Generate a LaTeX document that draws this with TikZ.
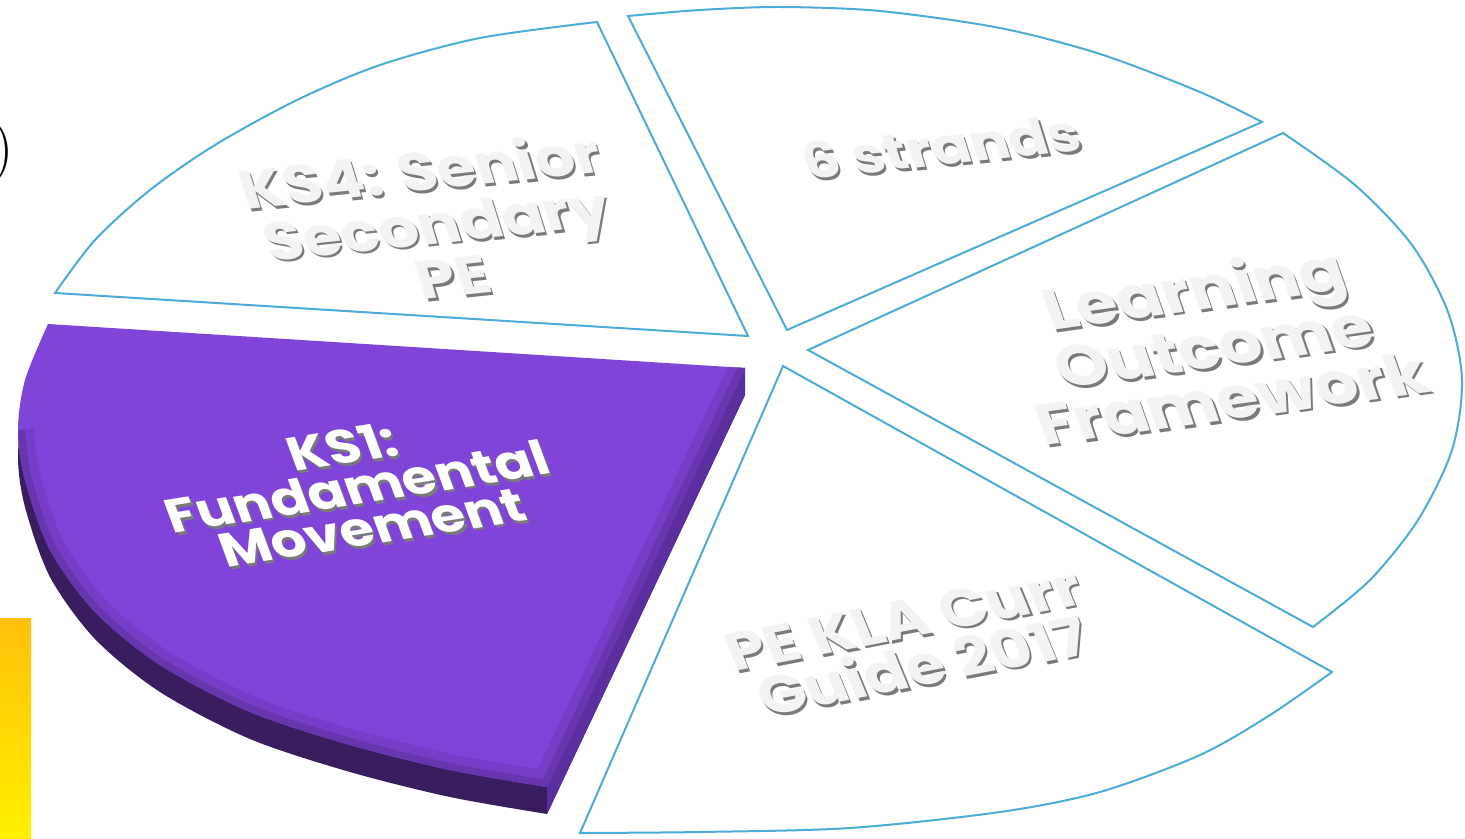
\documentclass[tikz,border=0pt]{standalone}
\usepackage{fontspec}
\usepackage{xcolor}
\usepackage{tikz}

\newfontfamily\piefont{Poppins}
\definecolor{rimblue}{RGB}{75,172,216}
\definecolor{pieviolet}{RGB}{128,68,217}
\definecolor{violetside}{RGB}{92,45,158}
\definecolor{violetdark}{RGB}{58,29,94}
\definecolor{embossgray}{RGB}{122,122,122}
\definecolor{letterwhite}{RGB}{243,243,243}

% embossed label: shadow copy first, then the face
\newcommand{\embossed}[4][]{%
  \node[xshift=1.1pt,yshift=-1.4pt,#1,lbl,text=embossgray] at (#3) {#4};
  \node[#1,lbl] (#2) at (#3) {#4};
}

\begin{document}
\begin{tikzpicture}[x=0.5pt,y=-0.5pt,
  slice/.style={fill=white,draw=rimblue,line width=1pt},
  lbl/.style={align=center,inner sep=0pt,xslant=-0.2,xscale=1.15}]
\useasboundingbox (0,0) rectangle (1465,839);

% white slices
\draw[slice] (748,336) -- (55,293) -- plot[smooth] coordinates {(55,293) (95,240) (150,190) (215,145) (297,100) (380,65) (480,38) (597,22)} -- cycle;
\draw[slice] (787,330) -- (628,16) -- plot[smooth] coordinates {(628,16) (700,10) (780,7) (880,11) (1000,28) (1100,54) (1200,92) (1262,122)} -- cycle;
\draw[slice] (808,350) -- (1283,133) -- plot[smooth] coordinates {(1283,133) (1355,185) (1412,245) (1448,312) (1462,380) (1452,450) (1418,520) (1370,580) (1313,627)} -- cycle;
\draw[slice] (783,366) -- (1332,672) -- plot[smooth] coordinates {(1332,672) (1270,715) (1200,755) (1100,792) (1000,812) (850,828) (700,832) (580,833)} -- cycle;

% pulled-out slice: side, then top face
\begin{scope}[yshift=-13.5pt]
\fill[violetdark] (48,324) -- (745,368) -- (547,787) -- plot[smooth] coordinates {(547,787) (450,770) (350,745) (250,712) (160,665) (95,612) (50,550) (25,480) (18,430) (25,380) (48,324)} -- cycle;
\end{scope}
\fill[violetside] (745,368) -- (547,787) -- (547,814) -- (745,395) -- cycle;
\fill[pieviolet] (48,324) -- (745,368) -- (547,787) -- plot[smooth] coordinates {(547,787) (450,770) (350,745) (250,712) (160,665) (95,612) (50,550) (25,480) (18,430) (25,380) (48,324)} -- cycle;
\begin{scope}
\clip (48,324) -- (745,368) -- (547,787) -- plot[smooth] coordinates {(547,787) (450,770) (350,745) (250,712) (160,665) (95,612) (50,550) (25,480) (18,430) (25,380) (48,324)} -- cycle;
\draw[pieviolet!92!black,line width=16pt] (745,368) -- (547,787) -- plot[smooth] coordinates {(547,787) (450,770) (350,745) (250,712) (160,665) (95,612) (50,550) (25,480) (18,430)};
\draw[pieviolet!80!black,line width=7pt] (745,368) -- (547,787) -- plot[smooth] coordinates {(547,787) (450,770) (350,745) (250,712) (160,665) (95,612) (50,550) (25,480) (18,430)};
\end{scope}

% labels
\embossed[rotate=6,font=\piefont\bfseries\fontsize{27}{27}\selectfont,text=letterwhite]{senior}{436,222}{KS4: Senior\\Secondary\\PE}
\embossed[rotate=6,font=\piefont\bfseries\fontsize{25}{26}\selectfont,text=letterwhite]{strands}{941,147}{6 strands}
\embossed[rotate=8,font=\piefont\bfseries\fontsize{29}{27}\selectfont,text=letterwhite]{outcome}{1212,342}{Learning\\Outcome\\Framework}
\embossed[rotate=11,font=\piefont\bfseries\fontsize{27}{25}\selectfont,text=letterwhite]{guide}{913,643}{PE KLA Curr\\Guide 2017}
\embossed[rotate=9,font=\piefont\bfseries\fontsize{24}{21}\selectfont,text=white]{fundamental}{357,487}{KS1:\\Fundamental\\Movement}

% cut-off bits at the left edge
\node[font=\fontsize{30}{30}\selectfont,anchor=east,inner sep=0pt] (paren) at (14,153) {)};
\shade[top color={rgb,255:red,255;green,192;blue,10},middle color={rgb,255:red,255;green,222;blue,100},bottom color={rgb,255:red,255;green,240;blue,0}] (0,618) rectangle (31,839);
\end{tikzpicture}
\end{document}
